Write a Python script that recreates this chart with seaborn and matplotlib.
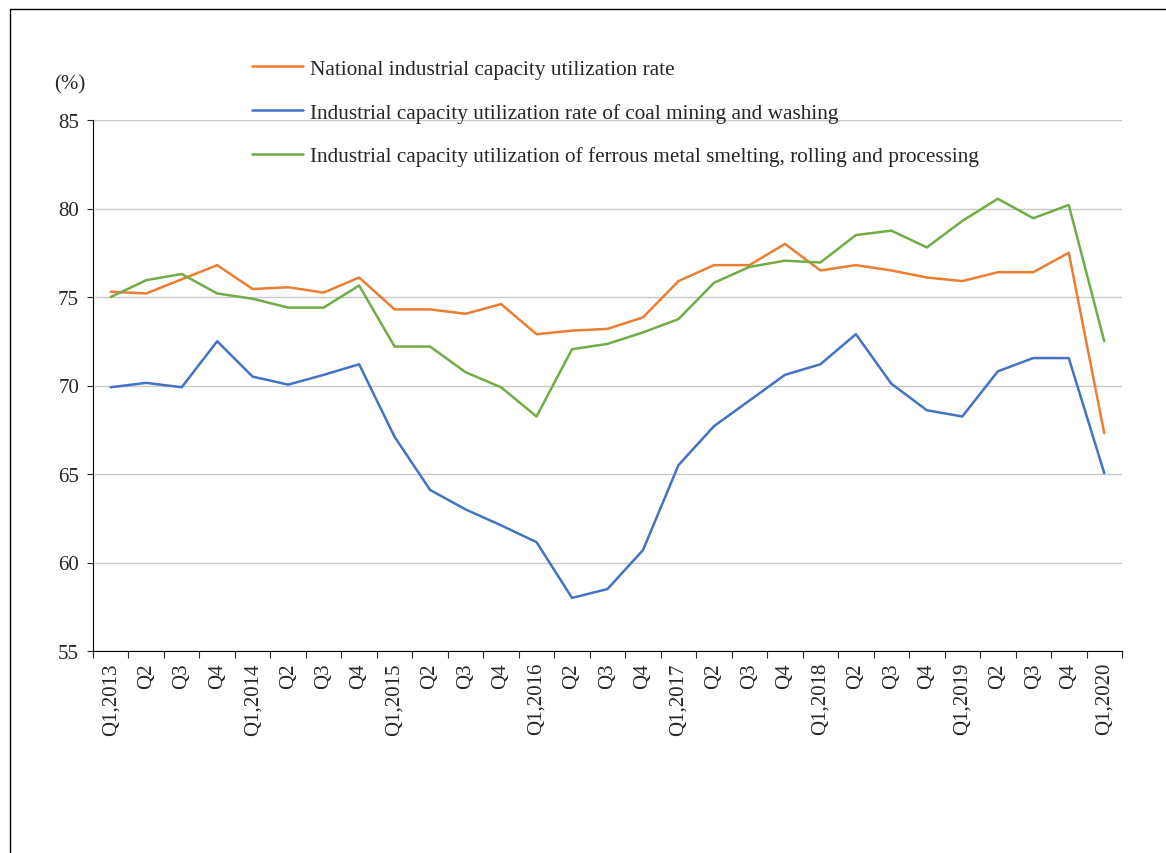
import numpy as np
import pandas as pd
import matplotlib
matplotlib.use('Agg')
import matplotlib.pyplot as plt
import seaborn as sns
from matplotlib.patches import Rectangle

# Quarterly data, Q1 2013 - Q1 2020
quarters = []
for year in range(2013, 2021):
    for q in range(1, 5):
        if year == 2020 and q > 1:
            break
        quarters.append(f'Q1,{year}' if q == 1 else f'Q{q}')

national = [75.3, 75.2, 76.0, 76.8, 75.45, 75.55, 75.25, 76.1,
            74.3, 74.3, 74.05, 74.6, 72.9, 73.1, 73.2, 73.85,
            75.9, 76.8, 76.8, 78.0, 76.5, 76.8, 76.5, 76.1,
            75.9, 76.4, 76.4, 77.5, 67.3]
coal = [69.9, 70.15, 69.9, 72.5, 70.5, 70.05, 70.6, 71.2,
        67.1, 64.1, 63.0, 62.1, 61.15, 58.0, 58.5, 60.7,
        65.5, 67.7, 69.15, 70.6, 71.2, 72.9, 70.1, 68.6,
        68.25, 70.8, 71.55, 71.55, 65.05]
ferrous = [75.0, 75.95, 76.3, 75.2, 74.9, 74.4, 74.4, 75.65,
           72.2, 72.2, 70.75, 69.9, 68.25, 72.05, 72.35, 73.0,
           73.75, 75.8, 76.7, 77.05, 76.95, 78.5, 78.75, 77.8,
           79.3, 80.55, 79.45, 80.2, 72.5]

series_names = [
    'National industrial capacity utilization rate',
    'Industrial capacity utilization rate of coal mining and washing',
    'Industrial capacity utilization of ferrous metal smelting, rolling and processing',
]
colors = ['#ED7D31', '#4472C4', '#70AD47']

# long-form table for seaborn
n = len(quarters)
df = pd.DataFrame({
    'idx': list(range(n)) * 3,
    'value': national + coal + ferrous,
    'series': [series_names[0]] * n + [series_names[1]] * n + [series_names[2]] * n,
})

sns.set_style('white')
plt.rcParams['font.family'] = ['Liberation Serif', 'DejaVu Serif']

fig = plt.figure(figsize=(11.66, 8.54), dpi=100)
ax = fig.add_axes([93 / 1166, 1 - 652 / 854, (1122 - 93) / 1166, (652 - 121) / 854])

sns.lineplot(data=df, x='idx', y='value', hue='series', hue_order=series_names,
             palette=colors, linewidth=1.8, ax=ax)

ax.set_xlim(-0.5, n - 0.5)
ax.set_ylim(55, 85)
ax.set_yticks(range(55, 90, 5))
ax.tick_params(axis='y', labelsize=15, length=4, width=0.8, direction='out', left=True, pad=6)
ax.yaxis.grid(True, color='#c8c8c8', linewidth=1.0)
ax.set_axisbelow(True)

ax.set_xticks(range(n))
ax.set_xticklabels(quarters, rotation=90, fontsize=15)
ax.set_xticks(np.arange(-0.5, n, 1.0), minor=True)
ax.tick_params(axis='x', which='major', length=0, pad=8)
ax.tick_params(axis='x', which='minor', length=5, width=0.8, direction='out', bottom=True)

for side in ['top', 'right']:
    ax.spines[side].set_visible(False)
for side in ['left', 'bottom']:
    ax.spines[side].set_color('black')
    ax.spines[side].set_linewidth(0.8)

ax.set_xlabel('')
ax.set_ylabel('')

fig.text(70 / 1166, 1 - 85 / 854, '(%)', fontsize=15, ha='center', va='center')

ax.legend(loc='upper left', bbox_to_anchor=(252 / 1166, 1 - 60 / 854),
          bbox_transform=fig.transFigure, frameon=False, fontsize=15.3,
          borderpad=0, borderaxespad=0, handlelength=2.4, handletextpad=0.35,
          labelspacing=1.12)

# outer frame around the chart area
fig.patches.append(Rectangle((10 / 1166, -0.1), 1.2, 1.1 - 10 / 854,
                             transform=fig.transFigure, fill=False,
                             edgecolor='black', linewidth=1.0))

fig.savefig('out.png', dpi=100)
